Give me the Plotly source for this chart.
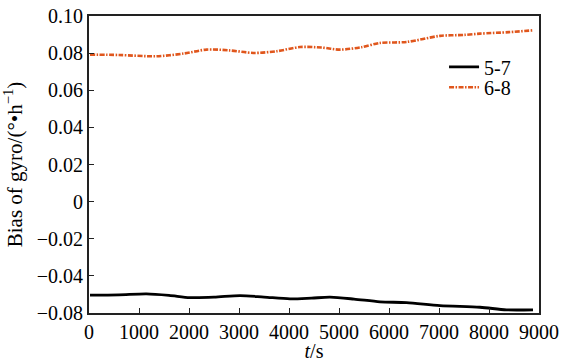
import plotly.graph_objects as go

# data
t_57 = [20, 600, 1150, 1600, 2020, 2500, 3020, 3500, 4020, 4450, 4820, 5300, 5820, 6350, 7020, 7820, 8350, 8880]
bias_57 = [-0.0504, -0.0502, -0.0497, -0.0505, -0.0517, -0.0515, -0.0506, -0.0514, -0.0524, -0.0520, -0.0515, -0.0525, -0.0540, -0.0544, -0.0560, -0.0569, -0.0583, -0.0583]

t_68 = [20, 600, 1350, 1900, 2350, 2800, 3290, 3750, 4220, 4650, 5020, 5450, 5820, 6350, 7020, 7500, 7820, 8400, 8880]
bias_68 = [0.0792, 0.0790, 0.0783, 0.0798, 0.0819, 0.0815, 0.0801, 0.0810, 0.0833, 0.0830, 0.0819, 0.0832, 0.0855, 0.0860, 0.0893, 0.0898, 0.0905, 0.0913, 0.0923]

x_ticks = [0, 1000, 2000, 3000, 4000, 5000, 6000, 7000, 8000, 9000]
y_tick_vals = [0.10, 0.08, 0.06, 0.04, 0.02, 0, -0.02, -0.04, -0.06]
y_tick_text = ["0.10", "0.08", "0.06", "0.04", "0.02", "0", "\u22120.02", "\u22120.04", "\u22120.08"]

font = "Times New Roman, Liberation Serif, serif"

fig = go.Figure()
fig.add_trace(go.Scatter(x=t_57, y=bias_57, mode="lines", name="5-7", legend="legend",
                         line=dict(color="black", width=2.8, shape="spline", smoothing=0.8)))
fig.add_trace(go.Scatter(x=t_68, y=bias_68, mode="lines", name="6-8", legend="legend2",
                         line=dict(color="#E0561C", width=2.6, dash="5px,1.5px,1.5px,1.5px",
                                   shape="spline", smoothing=0.8)))

leg_common = dict(xanchor="left", yanchor="middle", bgcolor="rgba(0,0,0,0)",
                  font=dict(family=font, size=20), itemwidth=30)

fig.update_layout(
    width=566, height=362,
    margin=dict(l=89, r=27, t=16, b=49, autoexpand=False),
    paper_bgcolor="white", plot_bgcolor="white",
    font=dict(family=font, size=20, color="black"),
    showlegend=True,
    legend=dict(x=0.789, y=0.829, **leg_common),
    legend2=dict(x=0.789, y=0.760, **leg_common),
    xaxis=dict(range=[0, 9000], tickvals=x_ticks, ticks="inside", ticklen=5,
               tickcolor="#222", showline=True, linecolor="#222", linewidth=1.8,
               mirror=True, showgrid=False, zeroline=False, automargin=False,
               tickfont=dict(family=font, size=20),
               title=dict(text="<i>t</i>/s", standoff=0, font=dict(family=font, size=20))),
    yaxis=dict(range=[-0.06, 0.10], tickvals=y_tick_vals, ticktext=y_tick_text,
               ticks="inside", ticklen=5, tickcolor="#222", showline=True,
               linecolor="#222", linewidth=1.8, mirror=True, showgrid=False,
               zeroline=False, automargin=True,
               tickfont=dict(family=font, size=20),
               title=dict(text="Bias of gyro/(\u00b0\u2022h<sup>\u22121</sup>)", standoff=12,
                          font=dict(family=font, size=21))),
)

fig.write_html("out.html", post_script="document.body.style.margin='0';",
               config={"displayModeBar": False})
